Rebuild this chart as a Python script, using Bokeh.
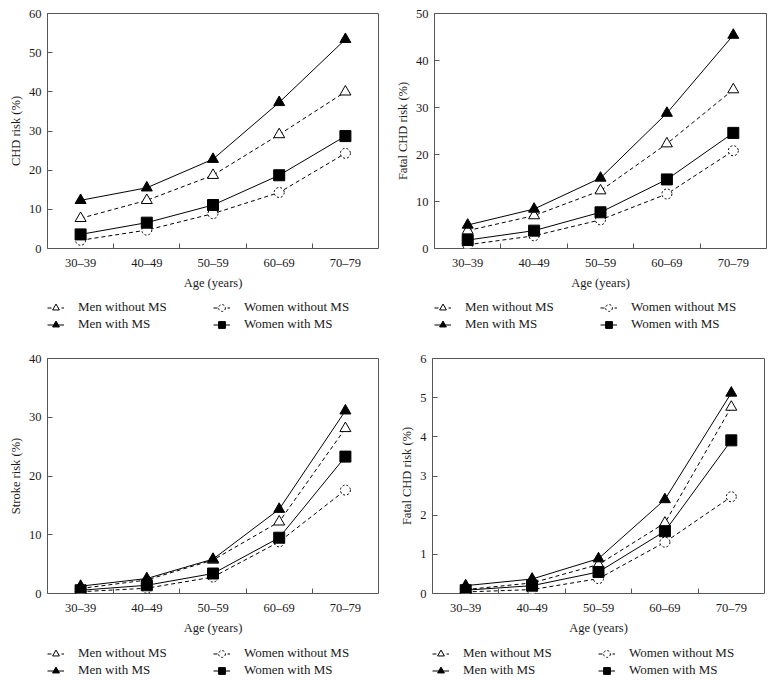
from bokeh.plotting import figure
from bokeh.models import (Range1d, LinearAxis, FixedTicker,
                          SingleIntervalTicker, Legend, LegendItem)
from bokeh.layouts import column, row
from bokeh.embed import file_html
from bokeh.resources import INLINE

ages = ["30–39", "40–49", "50–59", "60–69", "70–79"]
series_names = ["Men without MS", "Women without MS", "Men with MS", "Women with MS"]

# Panel A: CHD risk (%)
chd_men_without = [7.7, 12.3, 18.7, 29.1, 40.0]
chd_women_without = [2.1, 4.7, 8.9, 14.3, 24.3]
chd_men_with = [12.3, 15.5, 22.8, 37.3, 53.4]
chd_women_with = [3.6, 6.6, 11.1, 18.7, 28.7]

# Panel B: Fatal CHD risk (%)
fchd_men_without = [3.8, 7.0, 12.3, 22.3, 33.8]
fchd_women_without = [0.8, 2.7, 6.1, 11.6, 20.8]
fchd_men_with = [5.0, 8.4, 15.0, 28.8, 45.4]
fchd_women_with = [1.8, 3.8, 7.7, 14.7, 24.6]

# Panel C: Stroke risk (%)
stroke_men_without = [0.85, 2.3, 5.7, 12.2, 28.1]
stroke_women_without = [0.3, 0.9, 2.8, 8.8, 17.6]
stroke_men_with = [1.25, 2.55, 5.85, 14.35, 31.1]
stroke_women_with = [0.55, 1.4, 3.4, 9.5, 23.3]

# Panel D: Fatal CHD risk (%) (second)
fchd2_men_without = [0.1, 0.27, 0.74, 1.8, 4.76]
fchd2_women_without = [0.04, 0.1, 0.38, 1.31, 2.47]
fchd2_men_with = [0.2, 0.37, 0.89, 2.4, 5.12]
fchd2_women_with = [0.085, 0.2, 0.55, 1.59, 3.91]

FONT = "Liberation Serif"
AXIS_COLOR = "#555555"
TEXT_COLOR = "#1a1a1a"

STYLES = {
    "Men without MS": dict(dash="4 3", marker="triangle", fill="white", size=11, mdash="solid"),
    "Women without MS": dict(dash="4 3", marker="circle", fill="white", size=10, mdash="2 2"),
    "Men with MS": dict(dash="solid", marker="triangle", fill="black", size=11, mdash="solid"),
    "Women with MS": dict(dash="solid", marker="square", fill="black", size=11, mdash="solid"),
}

# category centres on a numeric axis (one unit per age group)
xpos = [i + 0.5 for i in range(len(ages))]


def draw_series(p, data):
    renderers = {}
    for name in series_names:
        st = STYLES[name]
        vals = data[name]
        ln = p.line(xpos, vals, line_color="black", line_width=1, line_dash=st["dash"])
        sc = p.scatter(xpos, vals, marker=st["marker"], size=st["size"], fill_color=st["fill"],
                       line_color="black", line_width=1, line_dash=st["mdash"])
        renderers[name] = [ln, sc]
    return renderers


def make_chart(ylabel, ymax, yint, data, fw, bl, br):
    p = figure(frame_width=fw, frame_height=235, x_range=Range1d(0, len(ages)),
               y_range=Range1d(0, ymax),
               x_axis_location=None, y_axis_location=None, output_backend="svg",
               toolbar_location=None, min_border_left=bl, min_border_right=br,
               min_border_top=13, min_border_bottom=44)
    p.outline_line_color = AXIS_COLOR
    p.outline_line_width = 1
    p.background_fill_color = "white"
    p.border_fill_color = "white"

    ya = LinearAxis(ticker=SingleIntervalTicker(interval=yint, num_minor_ticks=0),
                    axis_label=ylabel)
    ya.axis_line_color = None
    ya.major_tick_in = 5
    ya.major_tick_out = 0
    ya.major_tick_line_color = AXIS_COLOR
    ya.minor_tick_line_color = None
    ya.major_label_standoff = 6
    ya.major_label_text_font = FONT
    ya.major_label_text_font_size = "12.5px"
    ya.major_label_text_color = TEXT_COLOR
    ya.axis_label_text_font = FONT
    ya.axis_label_text_font_size = "12.5px"
    ya.axis_label_text_font_style = "normal"
    ya.axis_label_text_color = TEXT_COLOR
    ya.axis_label_standoff = 3
    p.add_layout(ya, "left")

    xa = LinearAxis(ticker=FixedTicker(ticks=xpos, minor_ticks=list(range(1, len(ages)))),
                    axis_label="Age (years)")
    xa.major_label_overrides = {x: lab for x, lab in zip(xpos, ages)}
    xa.axis_line_color = None
    xa.major_tick_line_color = None
    xa.minor_tick_line_color = AXIS_COLOR
    xa.minor_tick_in = 5
    xa.minor_tick_out = 0
    xa.major_label_standoff = 1
    xa.major_label_text_font = FONT
    xa.major_label_text_font_size = "12.5px"
    xa.major_label_text_color = TEXT_COLOR
    xa.axis_label_text_font = FONT
    xa.axis_label_text_font_size = "12.5px"
    xa.axis_label_text_font_style = "normal"
    xa.axis_label_text_color = TEXT_COLOR
    xa.axis_label_standoff = 3
    p.add_layout(xa, "below")

    p.grid.visible = False
    draw_series(p, data)
    return p


def make_key(data, fw, bl, br, fh, vy1, vy2):
    # a strip under each chart holding the key; series drawn outside its visible range
    k = figure(frame_width=fw, frame_height=fh, x_range=Range1d(0, len(ages)),
               y_range=Range1d(-2, -1), x_axis_location=None, y_axis_location=None,
               output_backend="svg", toolbar_location=None, min_border_left=bl,
               min_border_right=br, min_border_top=0, min_border_bottom=0)
    k.outline_line_color = None
    k.grid.visible = False
    k.background_fill_color = "white"
    k.border_fill_color = "white"
    renderers = draw_series(k, data)
    for names, vy in ((series_names[:2], vy1), (series_names[2:], vy2)):
        items = [LegendItem(label=n, renderers=renderers[n]) for n in names]
        leg = Legend(items=items, orientation="horizontal", location=(0, vy),
                     border_line_color=None, background_fill_alpha=0, padding=0, margin=0,
                     spacing=1, glyph_width=17, glyph_height=17, label_height=17,
                     label_standoff=14, label_width=134, label_text_font=FONT,
                     label_text_font_size="13px", label_text_color=TEXT_COLOR)
        k.add_layout(leg, "center")
    return k


def panel(ylabel, ymax, yint, data, fw, bl, br, key_h, vy1, vy2):
    return column(make_chart(ylabel, ymax, yint, data, fw, bl, br),
                  make_key(data, fw, bl, br, key_h, vy1, vy2))


dA = {"Men without MS": chd_men_without, "Women without MS": chd_women_without,
      "Men with MS": chd_men_with, "Women with MS": chd_women_with}
dB = {"Men without MS": fchd_men_without, "Women without MS": fchd_women_without,
      "Men with MS": fchd_men_with, "Women with MS": fchd_women_with}
dC = {"Men without MS": stroke_men_without, "Women without MS": stroke_women_without,
      "Men with MS": stroke_men_with, "Women with MS": stroke_women_with}
dD = {"Men without MS": fchd2_men_without, "Women without MS": fchd2_women_without,
      "Men with MS": fchd2_men_with, "Women with MS": fchd2_women_with}

c1 = panel("CHD risk (%)", 60, 10, dA, 331, 47, 14, 53, 29.5, 12.5)
c2 = panel("Fatal CHD risk (%)", 50, 10, dB, 332, 40, 8, 53, 29.5, 12.5)
c3 = panel("Stroke risk (%)", 40, 10, dC, 331, 47, 14, 46, 21.5, 4.5)
c4 = panel("Fatal CHD risk (%)", 6, 1, dD, 332, 40, 8, 46, 21.5, 4.5)

layout = column(row(c1, c2), row(c3, c4))
open("out.html", "w").write(file_html(layout, INLINE))
